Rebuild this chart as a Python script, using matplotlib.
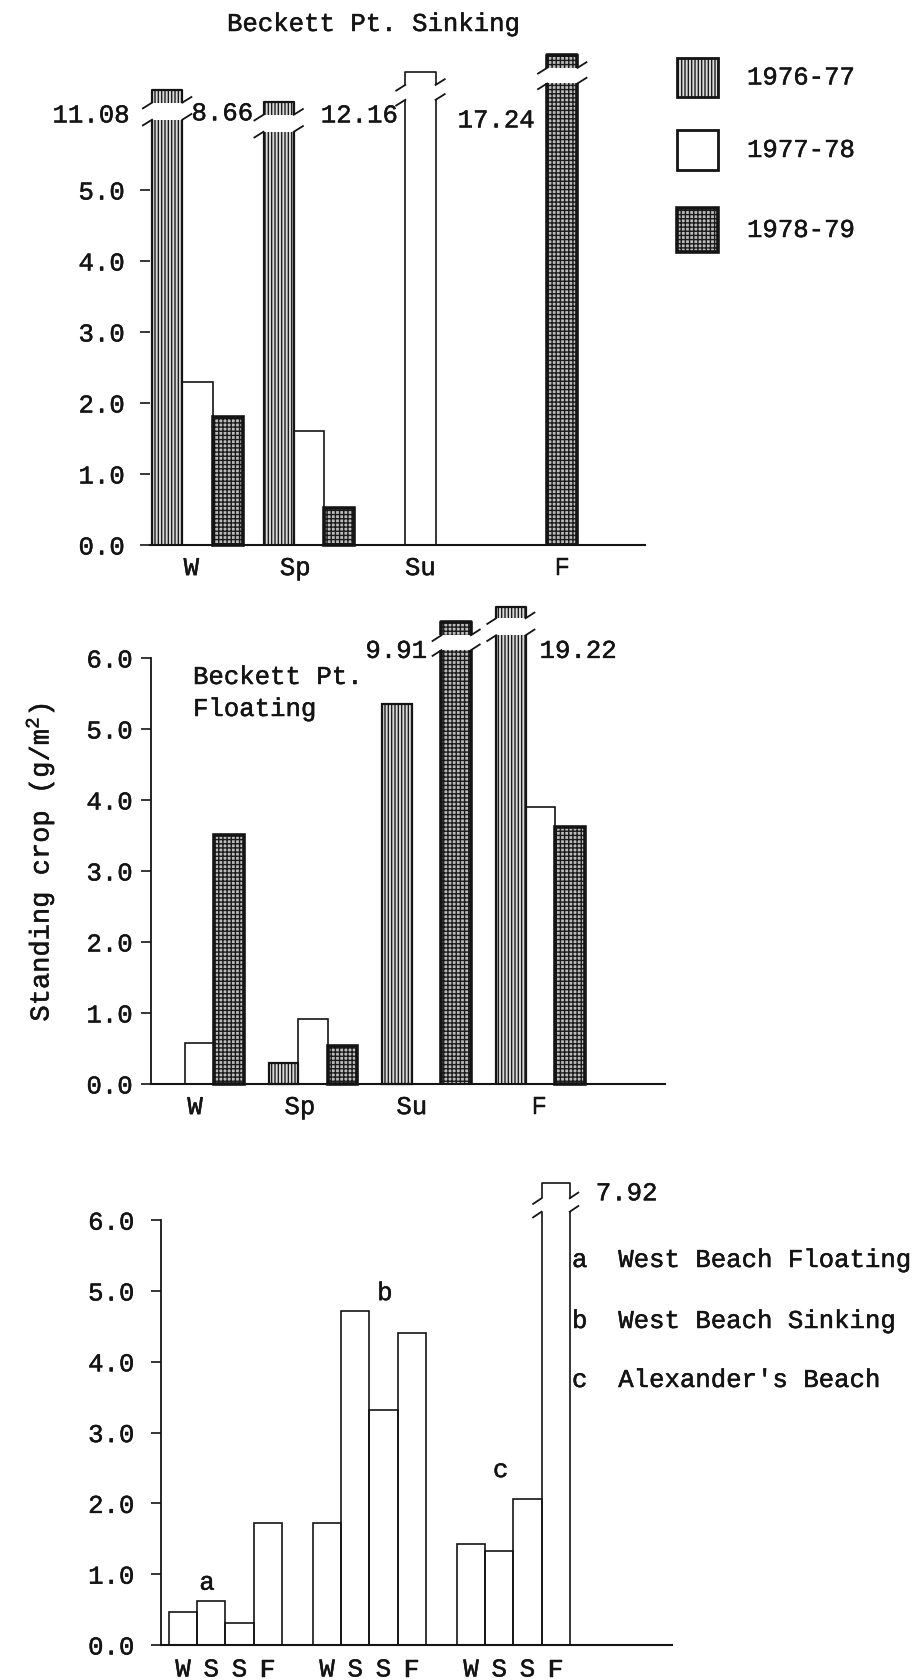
import numpy as np
import matplotlib
matplotlib.use("Agg")
import matplotlib.pyplot as plt
import matplotlib.patheffects as pe
from matplotlib.patches import Rectangle

# ---------------------------------------------------------------- data
nan = np.nan
seasons = ["W", "Sp", "Su", "F"]
years = ["1976-77", "1977-78", "1978-79"]

# Beckett Pt. sinking standing crop (g/m2)
sink_1976_77 = [11.08, 8.66, nan, nan]
sink_1977_78 = [2.30, 1.61, 12.16, nan]
sink_1978_79 = [1.80, 0.52, nan, 17.24]

# Beckett Pt. floating standing crop (g/m2)
float_1976_77 = [nan, 0.30, 5.35, 19.22]
float_1977_78 = [0.58, 0.92, nan, 3.90]
float_1978_79 = [3.51, 0.53, 9.91, 3.62]

# other beaches, one bar per season
beach_seasons = ["W", "S", "S", "F"]
site_letters = ["a", "b", "c"]
site_names = ["West Beach Floating", "West Beach Sinking", "Alexander's Beach"]
west_floating = [0.47, 0.62, 0.31, 1.72]
west_sinking = [1.72, 4.72, 3.32, 4.40]
alexanders = [1.42, 1.33, 2.06, 7.92]

y_ticks_top = [0.0, 1.0, 2.0, 3.0, 4.0, 5.0]
y_ticks = [0.0, 1.0, 2.0, 3.0, 4.0, 5.0, 6.0]

# ---------------------------------------------------------------- style
W_PX, H_PX, DPI = 922, 1680, 100
FS = 18.5
INK = "#141414"
plt.rcParams["font.family"] = ["Liberation Mono", "DejaVu Sans Mono"]
plt.rcParams["hatch.linewidth"] = 1.0
plt.rcParams["text.color"] = INK
plt.rcParams["xtick.color"] = INK
plt.rcParams["ytick.color"] = INK
INKED = [pe.withStroke(linewidth=0.35, foreground=INK)]

STYLES = {
    "1976-77": dict(face="#dadada", hatch="|||||", hcol="#1c1c1c", lw=1.6),
    "1977-78": dict(face="white", hatch=None, hcol="k", lw=1.2),
    "1978-79": dict(face="#bcbcbc", hatch="++++", hcol="#1c1c1c", lw=2.6),
}

fig = plt.figure(figsize=(W_PX / DPI, H_PX / DPI), dpi=DPI)
fig.patch.set_facecolor("white")

# overlay in pixel units for free-standing text and the key
ov = fig.add_axes([0, 0, 1, 1], zorder=0)
ov.set_xlim(0, W_PX)
ov.set_ylim(H_PX, 0)
ov.axis("off")
ov.patch.set_visible(False)


def txt(x, y, s, **kw):
    t = ov.text(x, y, s, fontsize=kw.pop("fontsize", FS), **kw)
    t.set_path_effects(INKED)
    return t


def panel(x0, x1, y0, ppu, ymax, pad, show_left, ticks):
    ax = fig.add_axes([x0 / W_PX, 1 - y0 / H_PX, (x1 - x0) / W_PX,
                       ymax * ppu / H_PX], zorder=2)
    ax.set_xlim(x0, x1)
    ax.set_ylim(0, ymax)
    ax.patch.set_visible(False)
    for s in ("top", "right"):
        ax.spines[s].set_visible(False)
    ax.spines["bottom"].set_linewidth(1.5)
    ax.spines["bottom"].set_color(INK)
    if show_left:
        ax.spines["left"].set_bounds(0, ticks[-1])
        ax.spines["left"].set_linewidth(1.3)
        ax.spines["left"].set_color(INK)
    else:
        ax.spines["left"].set_visible(False)
    ax.set_yticks(ticks)
    ax.set_yticklabels([f"{t:.1f}" for t in ticks])
    ax.tick_params(axis="y", length=7, width=1.2, pad=pad, labelsize=FS,
                   direction="out")
    ax.tick_params(axis="x", length=0, pad=8, labelsize=FS)
    return ax


def ink_ticklabels(ax):
    for lab in ax.get_xticklabels() + ax.get_yticklabels():
        lab.set_path_effects(INKED)


def draw_bar(ax, x, w, v, st, brk=None):
    if np.isnan(v):
        return
    top = v if brk is None else brk[0]
    ax.bar(x, top, width=w, align="edge", color=st["face"], hatch=st["hatch"],
           edgecolor=st["hcol"], linewidth=0, zorder=2, clip_on=False)
    if brk is None:
        ax.bar(x, v, width=w, align="edge", fill=False, edgecolor=INK,
               linewidth=st["lw"], zorder=3, clip_on=False)
        return
    lvl, lo, hi = brk
    kw = dict(color=INK, lw=st["lw"], zorder=3, clip_on=False,
              solid_capstyle="butt")
    ax.plot([x, x], [0, lvl], **kw)
    ax.plot([x + w, x + w], [0, lvl], **kw)
    ax.bar(x, hi - lo, bottom=lo, width=w, align="edge", color=st["face"],
           hatch=st["hatch"], edgecolor=st["hcol"], linewidth=0, zorder=2,
           clip_on=False)
    ax.plot([x, x, x + w, x + w], [lo, hi, hi, lo], **kw)
    tx, ty = 0.3 * w, 0.08
    tkw = dict(color=INK, lw=1.3, zorder=3, clip_on=False)
    for yy in (lvl, lo):
        ax.plot([x - tx, x], [yy - ty, yy], **tkw)
        ax.plot([x + w, x + w + tx], [yy, yy + ty], **tkw)


def value_label(ax, x, w, v, side, gap_px, yv):
    px2pt = 72.0 / DPI
    if side == "left":
        t = ax.annotate(f"{v:.2f}", xy=(x, yv), xytext=(-gap_px * px2pt, 0),
                        textcoords="offset points", ha="right", va="center",
                        fontsize=FS, annotation_clip=False)
    else:
        t = ax.annotate(f"{v:.2f}", xy=(x + w, yv), xytext=(gap_px * px2pt, 0),
                        textcoords="offset points", ha="left", va="center",
                        fontsize=FS, annotation_clip=False)
    t.set_path_effects(INKED)


# ---------------------------------------------------------------- panel 1
ax1 = panel(150, 645, 545, 71.0, 7.0, 11, False, y_ticks_top)
bw1, g0_1, gs1 = 30.3, 152, 111.5
series1 = [sink_1976_77, sink_1977_78, sink_1978_79]
# broken bars: (series, season) -> (lower top, cap bottom, cap top), label
breaks1 = {
    (0, 0): ((5.99, 6.23, 6.41), "left", 22, 6.05),
    (0, 1): ((5.82, 6.06, 6.24), "left", 10, 6.08),
    (1, 2): ((6.27, 6.48, 6.66), "left", 7, 6.05),
    (2, 3): ((6.50, 6.72, 6.90), "left", 12, 5.98),
}
for k, (yr, vals) in enumerate(zip(years, series1)):
    for g, v in enumerate(vals):
        x = g0_1 + g * gs1 + k * bw1
        b = breaks1.get((k, g))
        draw_bar(ax1, x, bw1, v, STYLES[yr], b[0] if b else None)
        if b:
            value_label(ax1, x, bw1, v, b[1], b[2], b[3])
lab_off1 = [1.3, 1.05, 1.5, 2.5]
ax1.set_xticks([g0_1 + g * gs1 + lab_off1[g] * bw1 for g in range(len(seasons))])
ax1.set_xticklabels(seasons)
ink_ticklabels(ax1)

txt(227, 24, "Beckett Pt. Sinking", ha="left", va="center")

# key
key_boxes = [(58, 97), (130, 170), (208, 252)]
for yr, (ya, yb) in zip(years, key_boxes):
    st = STYLES[yr]
    ov.add_patch(Rectangle((677, ya), 41, yb - ya, facecolor=st["face"],
                           hatch=st["hatch"], edgecolor=st["hcol"],
                           linewidth=0))
    ov.add_patch(Rectangle((677, ya), 41, yb - ya, fill=False, edgecolor=INK,
                           linewidth=max(st["lw"], 2.0)))
    txt(747, (ya + yb) / 2, yr, ha="left", va="center")

# ---------------------------------------------------------------- panel 2
ax2 = panel(151, 665, 1084, 71.0, 6.9, 6, True, y_ticks)
bw2, g0_2, gs2 = 29.5, 155, 113.7
series2 = [float_1976_77, float_1977_78, float_1978_79]
breaks2 = {
    (2, 2): ((6.11, 6.32, 6.51), "left", 14, 6.10),
    (0, 3): ((6.32, 6.56, 6.72), "right", 14, 6.10),
}
for k, (yr, vals) in enumerate(zip(years, series2)):
    for g, v in enumerate(vals):
        x = g0_2 + g * gs2 + k * bw2
        b = breaks2.get((k, g))
        draw_bar(ax2, x, bw2, v, STYLES[yr], b[0] if b else None)
        if b:
            value_label(ax2, x, bw2, v, b[1], b[2], b[3])
lab_off2 = [1.36, 1.06, 1.0, 1.46]
ax2.set_xticks([g0_2 + g * gs2 + lab_off2[g] * bw2 for g in range(len(seasons))])
ax2.set_xticklabels(seasons)
ink_ticklabels(ax2)

txt(193, 677, "Beckett Pt.", ha="left", va="center")
txt(193, 709, "Floating", ha="left", va="center")
txt(40, 862, r"Standing crop (g/$\mathregular{m^{2}}$)", rotation=90,
    ha="center", va="center", fontsize=19.5)

# ---------------------------------------------------------------- panel 3
ax3 = panel(161, 672, 1645, 70.8, 6.9, 12, True, y_ticks)
bw3, g0_3, gs3 = 28.2, 169, 144.0
series3 = [west_floating, west_sinking, alexanders]
breaks3 = {(2, 3): ((6.12, 6.31, 6.53), "right", 26, 6.38)}
letter_pos = [(1.35, 0.88), (2.55, 4.97), (1.55, 2.47)]
white = STYLES["1977-78"]
tick_x, tick_lab = [], []
for s, vals in enumerate(series3):
    for j, v in enumerate(vals):
        x = g0_3 + s * gs3 + j * bw3
        b = breaks3.get((s, j))
        draw_bar(ax3, x, bw3, v, white, b[0] if b else None)
        if b:
            value_label(ax3, x, bw3, v, b[1], b[2], b[3])
        tick_x.append(x + bw3 / 2)
        tick_lab.append(beach_seasons[j])
    lx, ly = letter_pos[s]
    t = ax3.text(g0_3 + s * gs3 + lx * bw3, ly, site_letters[s], fontsize=FS,
                 ha="center", va="center")
    t.set_path_effects(INKED)
ax3.set_xticks(tick_x)
ax3.set_xticklabels(tick_lab)
ax3.tick_params(axis="x", pad=9)
ink_ticklabels(ax3)

for letter, name, yy in zip(site_letters, site_names, (1260, 1321, 1380)):
    txt(572, yy, f"{letter}  {name}", ha="left", va="center")

fig.savefig("out.png", dpi=DPI, facecolor="white")
